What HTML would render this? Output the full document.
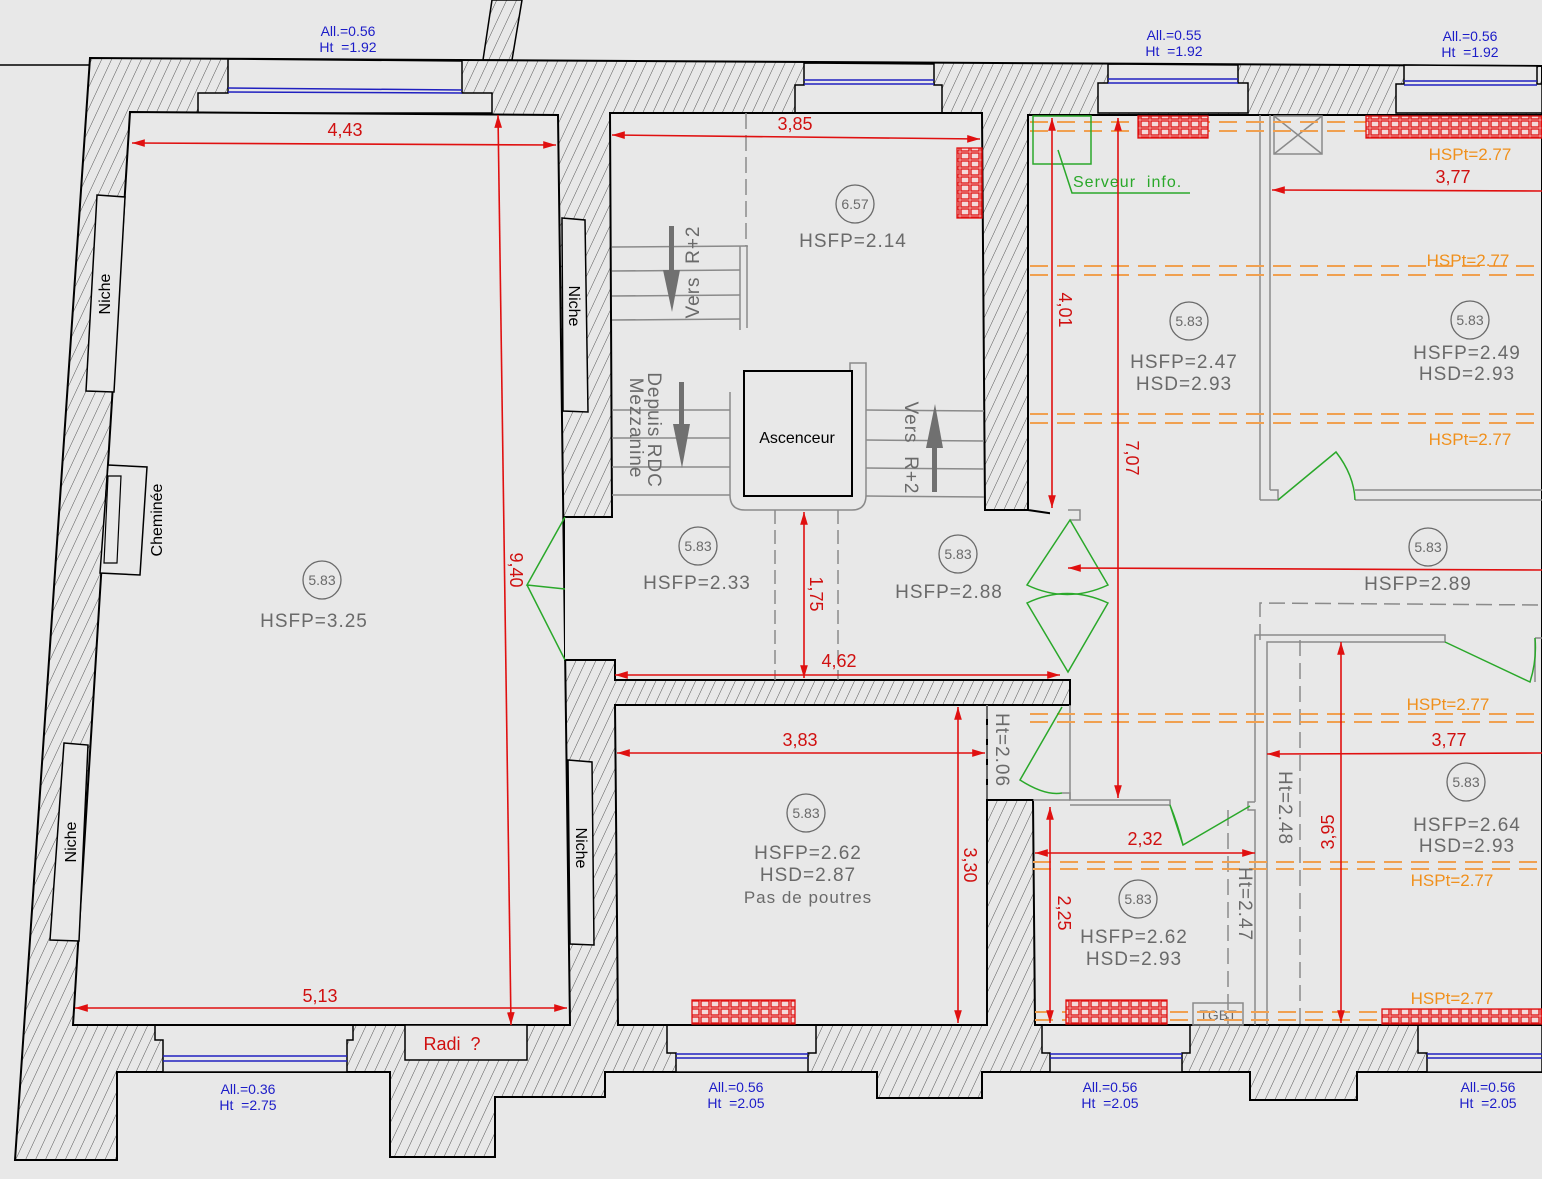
<!DOCTYPE html>
<html><head><meta charset="utf-8"><style>
html,body{margin:0;padding:0;background:#e8e8e8;}
svg{display:block}
text{font-family:"Liberation Sans",sans-serif;}
.g{fill:#6a6a6a;font-size:19px;letter-spacing:1px}
.c{fill:#6a6a6a;font-size:14px;letter-spacing:0}
.r{fill:#d01010;font-size:18px}
.o{fill:#f0901c;font-size:17px}
.b{fill:#1c1cc8;font-size:14px}
.k{fill:#000;font-size:16px}
.room{fill:#e8e8e8;stroke:#000;stroke-width:2}
.gl{stroke:#8a8a8a;stroke-width:2;fill:none}
.rd{stroke:#e01010;stroke-width:1.6;fill:none}
.gr{stroke:#2aa82a;stroke-width:1.5;fill:none}
.od{stroke:#f0a050;stroke-width:2;stroke-dasharray:18 9;fill:none}
</style></head><body>
<svg width="1542" height="1179" viewBox="0 0 1542 1179" xmlns="http://www.w3.org/2000/svg">
<defs>
<pattern id="h" width="9" height="9" patternUnits="userSpaceOnUse" patternTransform="rotate(25)">
<rect width="9" height="9" fill="#e8e8e8"/><line x1="0" y1="0" x2="0" y2="9" stroke="#555" stroke-width="1"/></pattern>
<pattern id="rad" width="10" height="8" patternUnits="userSpaceOnUse">
<rect width="10" height="8" fill="#f4d8d8"/><rect x="1" y="1" width="8" height="6" fill="none" stroke="#e01010" stroke-width="1.3"/></pattern>
<marker id="a" viewBox="0 0 10 10" refX="10" refY="5" markerWidth="10" markerHeight="8" orient="auto-start-reverse"><path d="M0,2 L10,5 L0,8z" fill="#e01010"/></marker>
</defs>
<rect width="1542" height="1179" fill="#e8e8e8"/>
<line x1="0" y1="65" x2="90" y2="65" stroke="#000" stroke-width="1.5"/>
<polygon points="483,60 492,0 522,0 512,60" fill="url(#h)" stroke="#000" stroke-width="1.5"/>
<polygon points="90,58 1542,66 1542,1072 1357,1072 1357,1100 1250,1100 1250,1072 982,1072 982,1098 877,1098 877,1072 605,1072 605,1097 495,1097 495,1157 390,1157 390,1072 117,1072 117,1160 15,1160" fill="url(#h)" stroke="#000" stroke-width="2"/>
<g class="room" style="stroke-width:1.5">
<polygon points="228,59 462,61 462,93 492,93 492,113 198,113 198,93 228,93"/>
<polygon points="804,63 934,64 934,85 942,85 942,113 795,113 795,85 804,85"/>
<polygon points="1108,64 1238,65 1238,83 1248,83 1248,113 1098,113 1098,83 1108,83"/>
<polygon points="1404,65 1537,66 1537,84 1542,84 1542,113 1396,113 1396,84 1404,84"/>
<polygon points="155,1025 353,1025 353,1040 347,1040 347,1072 163,1072 163,1040 155,1040"/>
<polygon points="667,1025 816,1025 816,1053 808,1053 808,1072 676,1072 676,1053 667,1053"/>
<polygon points="1042,1025 1190,1025 1190,1053 1182,1053 1182,1072 1050,1072 1050,1053 1042,1053"/>
<polygon points="1418,1025 1542,1025 1542,1072 1427,1072 1427,1053 1418,1053"/>
</g>
<g stroke="#2020c0" stroke-width="1.5">
<line x1="228" y1="88" x2="462" y2="90"/><line x1="228" y1="92" x2="462" y2="93"/>
<line x1="804" y1="80" x2="934" y2="80"/><line x1="804" y1="84" x2="934" y2="84"/>
<line x1="1108" y1="79" x2="1238" y2="79"/><line x1="1108" y1="83" x2="1238" y2="83"/>
<line x1="1404" y1="81" x2="1537" y2="81"/><line x1="1404" y1="85" x2="1537" y2="85"/>
<line x1="163" y1="1056" x2="347" y2="1056"/><line x1="163" y1="1061" x2="347" y2="1061"/>
<line x1="676" y1="1054" x2="808" y2="1054"/><line x1="676" y1="1058" x2="808" y2="1058"/>
<line x1="1050" y1="1054" x2="1182" y2="1054"/><line x1="1050" y1="1058" x2="1182" y2="1058"/>
<line x1="1427" y1="1054" x2="1542" y2="1054"/><line x1="1427" y1="1058" x2="1542" y2="1058"/>
</g>
<polygon class="room" points="130,112 558,115 570,1025 73,1025"/>
<polygon class="room" points="610,113 982,113 985,510 1062,510 1062,680 615,680 615,660 565,660 565,517 612,517"/>
<polygon class="room" points="615,705 987,705 987,1025 618,1025"/>
<polygon class="room" points="1028,115 1542,115 1542,1025 1035,1025 1033,800 987,800 987,705 1070,705 1070,680 1062,680 1062,515 1028,510"/>
<rect x="565" y="518" width="12" height="141" fill="#e8e8e8"/>
<rect x="1050" y="512" width="25" height="167" fill="#e8e8e8"/>
<rect x="990" y="706" width="80" height="93" fill="#e8e8e8"/>
<g class="room" style="stroke-width:1.5">
<polygon points="97,195 125,197 114,392 86,391"/>
<polygon points="108,465 147,467 140,575 100,573"/>
<polygon points="64,743 88,745 79,941 50,940"/>
<polygon points="562,218 585,220 588,412 563,411"/>
<polygon points="568,760 592,762 594,945 570,944"/>
<rect x="405" y="1025" width="122" height="35"/>
</g>
<polygon points="108,476 121,476 117,563 104,563" fill="none" stroke="#000" stroke-width="1.2"/>
<g class="k" font-size="15">
<text transform="translate(110,294) rotate(-90)" text-anchor="middle">Niche</text>
<text transform="translate(162,520) rotate(-90)" text-anchor="middle">Cheminée</text>
<text transform="translate(76,842) rotate(-90)" text-anchor="middle">Niche</text>
<text transform="translate(569,306) rotate(90)" text-anchor="middle">Niche</text>
<text transform="translate(576,848) rotate(90)" text-anchor="middle">Niche</text>
</g>
<text x="452" y="1050" class="r" text-anchor="middle" font-size="17">Radi&#160; ?</text>
<g class="gl" style="stroke-width:1.5">
<line x1="612" y1="247" x2="748" y2="246"/><line x1="612" y1="271" x2="740" y2="270"/><line x1="612" y1="296" x2="740" y2="295"/><line x1="612" y1="320" x2="740" y2="319"/>
<line x1="740" y1="246" x2="740" y2="330"/><line x1="747" y1="246" x2="747" y2="328"/>
<line x1="746" y1="113" x2="746" y2="246" stroke-dasharray="16 6"/>
<line x1="612" y1="410" x2="730" y2="410"/><line x1="612" y1="438" x2="730" y2="438"/><line x1="612" y1="467" x2="730" y2="467"/><line x1="612" y1="495" x2="730" y2="495"/>
<line x1="730" y1="392" x2="730" y2="495"/>
<line x1="866" y1="410" x2="984" y2="411"/><line x1="866" y1="440" x2="984" y2="441"/><line x1="866" y1="468" x2="984" y2="469"/><line x1="866" y1="496" x2="984" y2="497"/>
<path d="M730,495 Q730,510 745,510 L852,510 Q866,510 866,495 L866,363 L850,363 L850,372"/>
<line x1="775" y1="510" x2="775" y2="680" stroke-dasharray="14 6"/><line x1="838" y1="510" x2="838" y2="680" stroke-dasharray="14 6"/>
</g>
<rect x="744" y="371" width="108" height="125" fill="none" stroke="#000" stroke-width="2"/>
<text x="797" y="443" class="k" font-size="17" text-anchor="middle">Ascenceur</text>
<g fill="#707070">
<rect x="669" y="226" width="5" height="46"/><path d="M663,270 L680,270 L672,312z"/>
<rect x="679" y="382" width="5" height="44"/><path d="M673,424 L690,424 L682,468z"/>
<rect x="932" y="446" width="5" height="46"/><path d="M926,448 L943,448 L935,404z"/>
</g>
<g class="g" font-size="17">
<text transform="translate(699,272) rotate(-90)" text-anchor="middle">Vers&#160; R+2</text>
<text transform="translate(648,430) rotate(90)" text-anchor="middle">Depuis RDC</text>
<text transform="translate(630,428) rotate(90)" text-anchor="middle">Mezzanine</text>
<text transform="translate(905,448) rotate(90)" text-anchor="middle">Vers&#160; R+2</text>
</g>
<g class="gl" style="stroke-width:1.5">
<line x1="1260" y1="115" x2="1260" y2="500"/><line x1="1270" y1="115" x2="1270" y2="490"/>
<polyline points="1260,500 1278,500 1278,490 1270,490"/>
<line x1="1355" y1="490" x2="1542" y2="490"/><line x1="1355" y1="500" x2="1542" y2="500"/>
<rect x="1274" y="116" width="48" height="38" fill="none"/><line x1="1274" y1="116" x2="1322" y2="154"/><line x1="1322" y1="116" x2="1274" y2="154"/>
<polyline points="1260,640 1260,603 1542,605" stroke-dasharray="16 7"/>
<polyline points="1255,802 1255,635 1445,635 1445,642 1267,642 1267,1025"/>
<line x1="1300" y1="640" x2="1300" y2="1025" stroke-dasharray="16 7"/>
<polyline points="1535,638 1542,638"/><line x1="1535" y1="638" x2="1535" y2="682"/>
<polyline points="1068,510 1080,510 1080,520 1070,520"/>
<polyline points="1070,705 1070,800 1170,800 1170,805 1070,805"/>
<polyline points="1033,800 1070,800"/>
<polyline points="1070,800 1070,793 1062,793"/>
<polyline points="1255,802 1248,802 1248,810 1255,810 1255,1025"/>
<line x1="1228" y1="810" x2="1228" y2="1025" stroke-dasharray="16 7"/>
<line x1="987" y1="705" x2="987" y2="800" stroke-dasharray="14 6"/>
<rect x="1193" y="1003" width="50" height="22"/>
</g>
<text x="1218" y="1020" class="c" font-size="15" text-anchor="middle">TGBT</text>
<g class="od">
<line x1="1030" y1="122" x2="1542" y2="122"/><line x1="1030" y1="131" x2="1542" y2="131"/>
<line x1="1030" y1="266" x2="1542" y2="266"/><line x1="1030" y1="275" x2="1542" y2="275"/>
<line x1="1030" y1="414" x2="1542" y2="414"/><line x1="1030" y1="423" x2="1542" y2="423"/>
<line x1="1030" y1="714" x2="1542" y2="714"/><line x1="1030" y1="722" x2="1542" y2="722"/>
<line x1="1033" y1="862" x2="1542" y2="862"/><line x1="1033" y1="869" x2="1542" y2="869"/>
<line x1="1035" y1="1012" x2="1542" y2="1012"/><line x1="1035" y1="1020" x2="1542" y2="1020"/>
</g>
<g class="o">
<text x="1470" y="160" text-anchor="middle">HSPt=2.77</text>
<text x="1468" y="266" text-anchor="middle">HSPt=2.77</text>
<text x="1470" y="445" text-anchor="middle">HSPt=2.77</text>
<text x="1448" y="710" text-anchor="middle">HSPt=2.77</text>
<text x="1452" y="886" text-anchor="middle">HSPt=2.77</text>
<text x="1452" y="1004" text-anchor="middle">HSPt=2.77</text>
</g>
<g fill="url(#rad)" stroke="#e01010" stroke-width="1.3">
<rect x="957" y="148" width="25" height="70"/>
<rect x="1138" y="116" width="70" height="22"/>
<rect x="1366" y="116" width="176" height="22"/>
<rect x="692" y="1000" width="103" height="24"/>
<rect x="1066" y="1000" width="101" height="24"/>
<rect x="1382" y="1009" width="160" height="15"/>
</g>
<g class="gr">
<rect x="1033" y="116" width="58" height="48"/>
<polyline points="1058,150 1072,193 1190,193"/>
<path d="M565,517 L527,585 L565,589 M565,660 L527,585"/>
<path d="M1070,520 L1027,585 Q1067,604 1108,585 Z"/>
<path d="M1068,672 L1027,603 Q1067,584 1108,603 Z"/>
<path d="M1062,707 L1020,780 Q1045,796 1062,793"/>
<path d="M1170,805 L1183,845 L1250,806 M1183,845 Q1178,825 1170,805"/>
<path d="M1278,500 L1336,452 Q1354,475 1355,500"/>
<path d="M1445,642 L1530,682 Q1537,660 1535,638"/>
</g>
<text x="1073" y="187" fill="#2aa82a" font-size="16" letter-spacing="1">Serveur&#160; info.</text>
<g class="rd" marker-start="url(#a)" marker-end="url(#a)">
<line x1="132" y1="143" x2="556" y2="145"/>
<line x1="612" y1="135" x2="980" y2="139"/>
<line x1="75" y1="1008" x2="567" y2="1008"/>
<line x1="617" y1="753" x2="985" y2="753"/>
<line x1="1035" y1="853" x2="1255" y2="853"/>
<line x1="1068" y1="568" x2="1542" y2="570" marker-end="none"/>
<line x1="1272" y1="190" x2="1542" y2="191" marker-end="none"/>
<line x1="1267" y1="754" x2="1542" y2="753" marker-end="none"/>
<line x1="615" y1="675" x2="1060" y2="675"/>
</g>
<g class="rd">
<line x1="498" y1="115" x2="511" y2="1025" marker-start="url(#a)" marker-end="url(#a)"/>
<line x1="1052" y1="118" x2="1052" y2="508" marker-start="url(#a)" marker-end="url(#a)"/>
<line x1="1118" y1="118" x2="1118" y2="798" marker-start="url(#a)" marker-end="url(#a)"/>
<line x1="804" y1="512" x2="804" y2="678" marker-start="url(#a)" marker-end="url(#a)"/>
<line x1="958" y1="707" x2="958" y2="1023" marker-start="url(#a)" marker-end="url(#a)"/>
<line x1="1050" y1="807" x2="1050" y2="1023" marker-start="url(#a)" marker-end="url(#a)"/>
<line x1="1341" y1="642" x2="1341" y2="1023" marker-start="url(#a)" marker-end="url(#a)"/>
</g>
<g class="r">
<text x="345" y="136" text-anchor="middle">4,43</text>
<text x="795" y="130" text-anchor="middle">3,85</text>
<text x="320" y="1002" text-anchor="middle">5,13</text>
<text x="800" y="746" text-anchor="middle">3,83</text>
<text x="1145" y="845" text-anchor="middle">2,32</text>
<text x="1453" y="183" text-anchor="middle">3,77</text>
<text x="1449" y="746" text-anchor="middle">3,77</text>
<text x="839" y="667" text-anchor="middle">4,62</text>
<text transform="translate(510,570) rotate(90)" text-anchor="middle">9,40</text>
<text transform="translate(1059,310) rotate(90)" text-anchor="middle">4,01</text>
<text transform="translate(1126,458) rotate(90)" text-anchor="middle">7,07</text>
<text transform="translate(810,594) rotate(90)" text-anchor="middle">1,75</text>
<text transform="translate(964,865) rotate(90)" text-anchor="middle">3,30</text>
<text transform="translate(1058,913) rotate(90)" text-anchor="middle">2,25</text>
<text transform="translate(1334,832) rotate(-90)" text-anchor="middle">3,95</text>
</g>
<g class="g" font-size="15">
<text transform="translate(996,750) rotate(90)" text-anchor="middle">Ht=2.06</text>
<text transform="translate(1279,808) rotate(90)" text-anchor="middle">Ht=2.48</text>
<text transform="translate(1239,904) rotate(90)" text-anchor="middle">Ht=2.47</text>
</g>
<g fill="none" stroke="#6a6a6a" stroke-width="1.3">
<circle cx="855" cy="204" r="19"/><circle cx="322" cy="580" r="19"/><circle cx="698" cy="546" r="19"/>
<circle cx="958" cy="554" r="19"/><circle cx="1189" cy="321" r="19"/><circle cx="1470" cy="320" r="19"/>
<circle cx="1428" cy="547" r="19"/><circle cx="806" cy="813" r="19"/><circle cx="1466" cy="782" r="19"/><circle cx="1138" cy="899" r="19"/>
</g>
<g class="c" text-anchor="middle">
<text x="855" y="209">6.57</text><text x="322" y="585">5.83</text><text x="698" y="551">5.83</text>
<text x="958" y="559">5.83</text><text x="1189" y="326">5.83</text><text x="1470" y="325">5.83</text>
<text x="1428" y="552">5.83</text><text x="806" y="818">5.83</text><text x="1466" y="787">5.83</text><text x="1138" y="904">5.83</text>
</g>
<g class="g" text-anchor="middle">
<text x="853" y="247">HSFP=2.14</text>
<text x="314" y="627">HSFP=3.25</text>
<text x="697" y="589">HSFP=2.33</text>
<text x="949" y="598">HSFP=2.88</text>
<text x="1184" y="368">HSFP=2.47</text><text x="1184" y="390">HSD=2.93</text>
<text x="1467" y="359">HSFP=2.49</text><text x="1467" y="380">HSD=2.93</text>
<text x="1418" y="590">HSFP=2.89</text>
<text x="808" y="859">HSFP=2.62</text><text x="808" y="881">HSD=2.87</text><text x="808" y="903" font-size="17">Pas de poutres</text>
<text x="1467" y="831">HSFP=2.64</text><text x="1467" y="852">HSD=2.93</text>
<text x="1134" y="943">HSFP=2.62</text><text x="1134" y="965">HSD=2.93</text>
</g>
<g class="b" text-anchor="middle">
<text x="348" y="36">All.=0.56</text><text x="348" y="52">Ht&#160; =1.92</text>
<text x="1174" y="40">All.=0.55</text><text x="1174" y="56">Ht&#160; =1.92</text>
<text x="1470" y="41">All.=0.56</text><text x="1470" y="57">Ht&#160; =1.92</text>
<text x="248" y="1094">All.=0.36</text><text x="248" y="1110">Ht&#160; =2.75</text>
<text x="736" y="1092">All.=0.56</text><text x="736" y="1108">Ht&#160; =2.05</text>
<text x="1110" y="1092">All.=0.56</text><text x="1110" y="1108">Ht&#160; =2.05</text>
<text x="1488" y="1092">All.=0.56</text><text x="1488" y="1108">Ht&#160; =2.05</text>
</g>
</svg>
</body></html>
